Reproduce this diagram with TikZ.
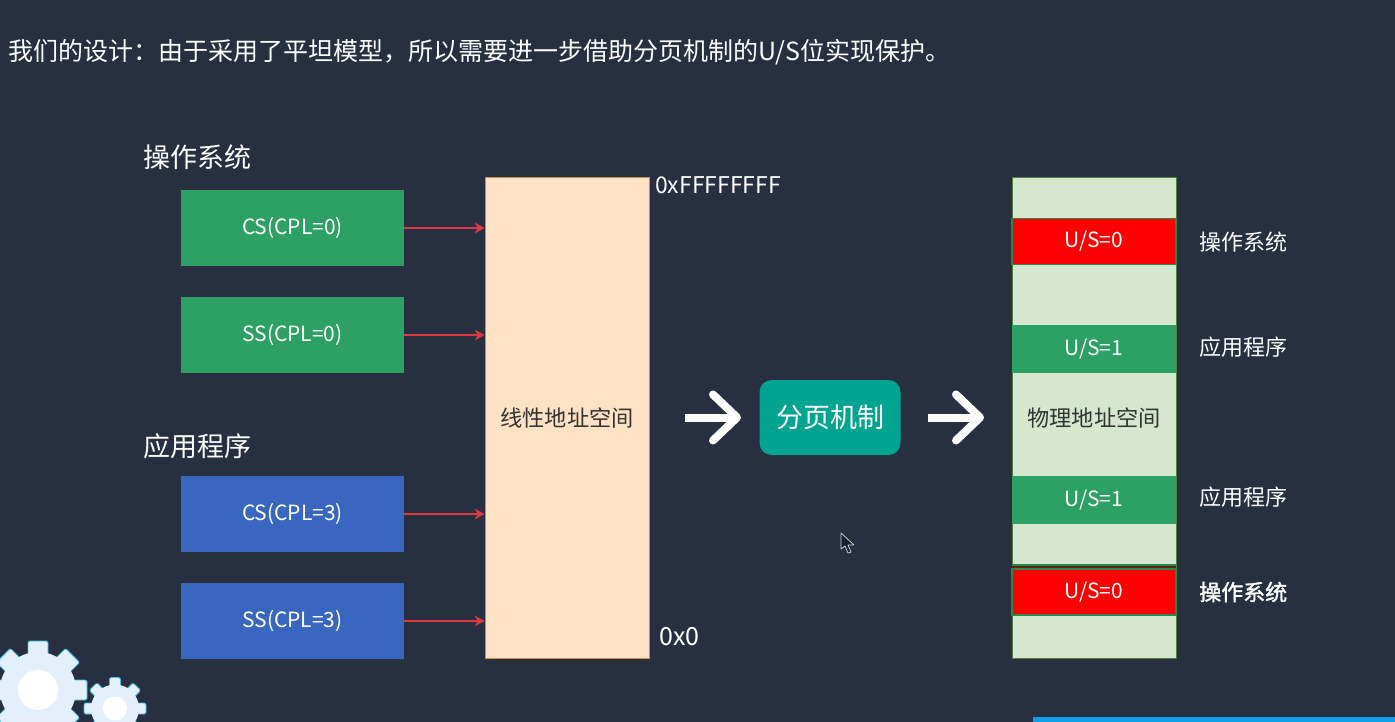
\documentclass[tikz,border=0pt]{standalone}
\usepackage{fontspec}
\setmainfont{Noto Sans CJK SC}
\newfontfamily\boldcjk[FakeBold=1.6]{Noto Sans CJK SC}
\usetikzlibrary{arrows.meta,calc}
\definecolor{bgc}{HTML}{272F41}
\definecolor{grn}{HTML}{2CA163}
\definecolor{blu}{HTML}{3966BF}
\definecolor{peach}{HTML}{FFE2C4}
\definecolor{peachb}{HTML}{C0924A}
\definecolor{lgrn}{HTML}{D5E8CE}
\definecolor{lgrnb}{HTML}{4F8040}
\definecolor{teal2}{HTML}{00A491}
\definecolor{gearc}{HTML}{E3F0FC}
\definecolor{gearb}{HTML}{3DB8E8}
\definecolor{redl}{HTML}{DC3A3C}
\definecolor{txt}{HTML}{333333}
\definecolor{barc}{HTML}{0E9FE6}
\newcommand{\fs}[1]{\fontsize{#1}{#1}\selectfont}
\tikzset{
  x=1pt,y=-1pt,
  segbox/.style={minimum width=223pt,minimum height=76pt,inner sep=0pt,text=white,font=\fs{21}},
  csgreen/.style={segbox,fill=grn},
  csblue/.style={segbox,fill=blu},
  space/.style={minimum width=164pt,minimum height=481pt,inner sep=0pt,text=txt,font=\fs{22.2},line width=.8pt},
  usblock/.style={minimum width=164pt,inner sep=0pt,text=white,font=\fs{21}},
  usred/.style={usblock,fill=red,draw=grn!85!black,line width=1.6pt},
  usgreen/.style={usblock,fill=grn},
  title/.style={anchor=west,text=white,inner sep=0pt},
  heading/.style={title,font=\fs{27}},
  sidelabel/.style={title,font=\fs{22}},
  addr/.style={title,font=\fs{23}},
  redarrow/.style={draw=redl,line width=1.6pt,-{Stealth[length=10pt,width=11pt]}},
  bigarrow/.style={draw=white,line width=8pt,-{Straight Barb[length=24pt,width=46pt,line width=8pt,round=false]}},
}
\begin{document}
\begin{tikzpicture}
\useasboundingbox (0,0) rectangle (1395,722);
\clip (0,0) rectangle (1395,722);
\fill[bgc] (0,0) rectangle (1395,722);
\fill[barc] (1033,717) rectangle (1395,722);
% title
\node[title,font=\fs{25}] (t) at (8,52) {我们的设计：由于采用了平坦模型，所以需要进一步借助分页机制的U/S位实现保护。};
% headings
\node[heading] (hos) at (143,157) {操作系统};
\node[heading] (hap) at (143,446) {应用程序};
% segments
\node[csgreen] (cs0) at (292.5,228) {\raisebox{-1pt}{CS(CPL=0)}};
\node[csgreen] (ss0) at (292.5,335) {\raisebox{-1pt}{SS(CPL=0)}};
\node[csblue] (cs3) at (292.5,514) {\raisebox{-1pt}{CS(CPL=3)}};
\node[csblue] (ss3) at (292.5,621) {\raisebox{-1pt}{SS(CPL=3)}};
% linear
\node[space,fill=peach,draw=peachb] (lin) at (567,417.5) {线性地址空间};
\node[addr] (ahi) at (655,185) {0xFFFFFFFF};
\node[addr,font=\fs{25}] (alo) at (659,637) {0x0};
\foreach \n in {cs0,ss0,cs3,ss3}{
  \draw[redarrow] (\n.east) -- (\n.east -| lin.west);
}
% paging
\node[fill=teal2,rounded corners=12pt,minimum width=141pt,minimum height=75pt,inner sep=0pt,text=white,font=\fs{27}] (pg) at (830,417.5) {分页机制};
% physical
\node[space,fill=lgrn,draw=lgrnb] (phy) at (1094,417.5) {物理地址空间};
\node[usred,minimum height=46pt] (r1) at (1094,241.5) {\raisebox{-1pt}{U/S=0}};
\node[usgreen,minimum height=48pt] (g1) at (1094,349) {U/S=1};
\node[usgreen,minimum height=48pt] (g2) at (1094,500) {U/S=1};
\fill[red!45!black!80!grn] (1012,565) rectangle (1176,569);
\draw[grn!85!black,line width=1.2pt] (1012,565) -- (1176,565);
\node[usred,minimum height=46pt] (r2) at (1094,592) {\raisebox{-1pt}{U/S=0}};
\node[sidelabel] (l1) at (1199,242) {操作系统};
\node[sidelabel] (l2) at (1199,347) {应用程序};
\node[sidelabel] (l3) at (1199,497) {应用程序};
\node[sidelabel,font={\fs{22}\boldcjk}] (l4) at (1199,592) {操作系统};
% big arrows
\coordinate (a1s) at (685,417.5);
\coordinate (a1e) at (741,417.5);
\coordinate (a2s) at (928,417.5);
\coordinate (a2e) at (984,417.5);
\draw[bigarrow] (a1s) -- (a1e);
\draw[bigarrow] (a2s) -- (a2e);
% gears
\foreach \cx/\cy/\rb/\rt/\tw/\rh in {38/690/38/49/20/20,115/708.5/24/31/11/12}{
  \foreach \a in {0,45,...,315}{
    \filldraw[fill=gearc,draw=gearb,line width=.8pt,rounded corners=1.5pt,rotate around={\a:(\cx,\cy)}]
      (\cx-\tw/2,\cy) rectangle (\cx+\tw/2,\cy-\rt);
  }
  \fill[gearc] (\cx,\cy) circle[radius=\rb];
  \fill[white] (\cx,\cy) circle[radius=\rh];
}
% cursor
\filldraw[fill=bgc!70!black,draw=white!80!black,line width=.8pt,line join=round]
  (841,533) -- (841,549) -- (845,546) -- (848,553) -- (851,552) -- (848,545) -- (854,545) -- cycle;
\end{tikzpicture}
\end{document}
